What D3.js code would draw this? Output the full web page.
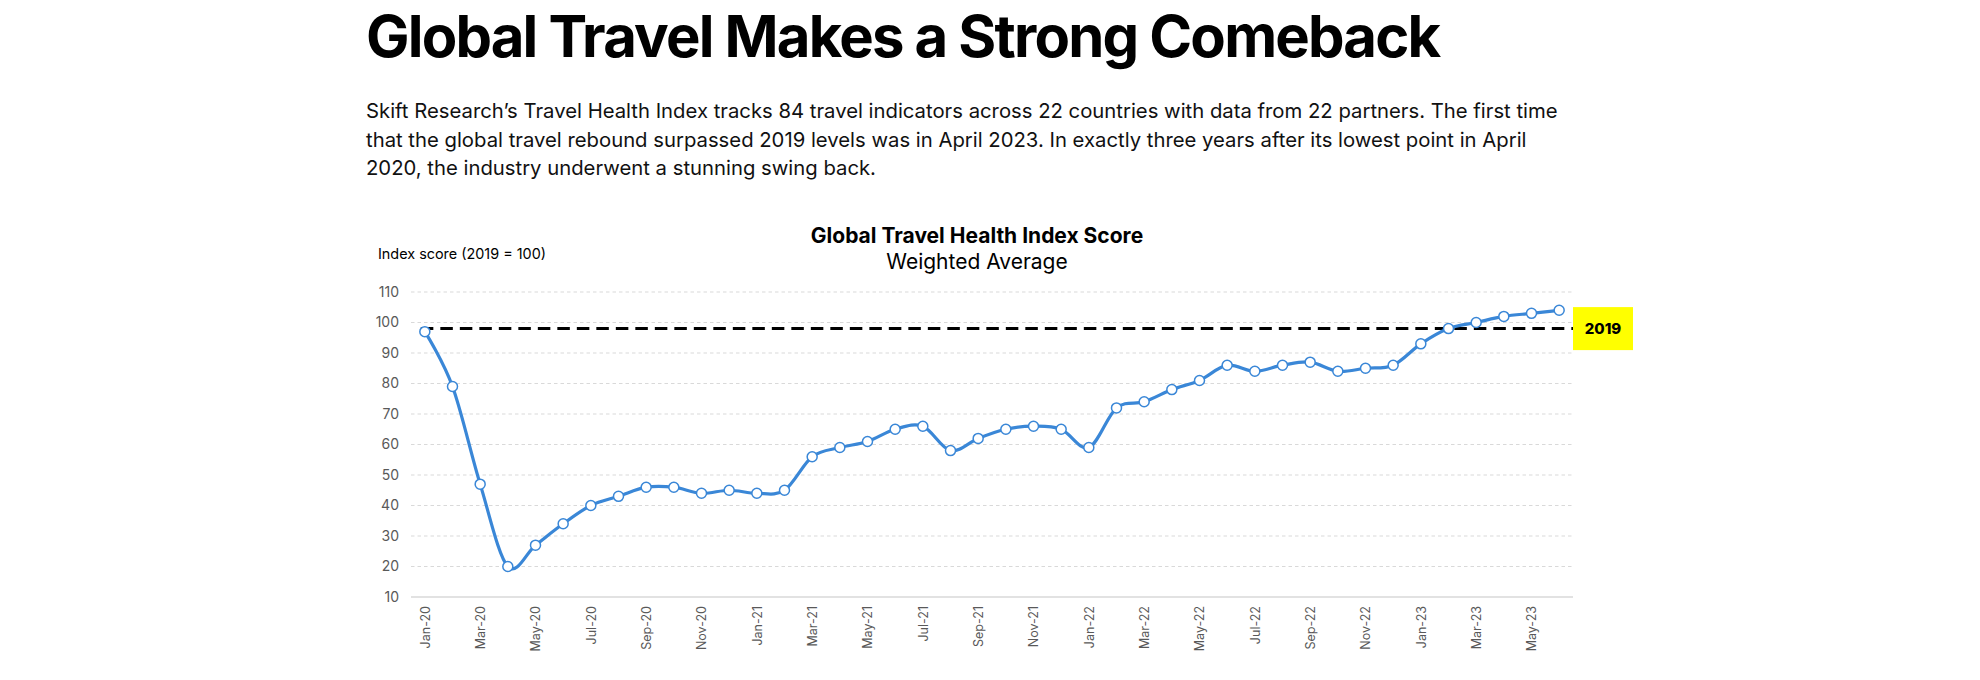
<html>
<head>
<meta charset="utf-8">
<title>Global Travel Health Index</title>
<script src="https://cdn.jsdelivr.net/npm/d3@7"></script>
<style>
  body { margin: 0; background: #fff; }
  svg text { font-family: Inter, "Noto Sans", sans-serif; }
</style>
</head>
<body>
<div id="chart"></div>
<script>
// headline + intro
const headline = "Global Travel Makes a Strong Comeback";
const intro = [
  "Skift Research\u2019s Travel Health Index tracks 84 travel indicators across 22 countries with data from 22 partners. The first time",
  "that the global travel rebound surpassed 2019 levels was in April 2023. In exactly three years after its lowest point in April",
  "2020, the industry underwent a stunning swing back."
];
const chartTitle = "Global Travel Health Index Score";
const chartSubtitle = "Weighted Average";
const yLabel = "Index score (2019 = 100)";

// monthly data, Jan-20 .. Jun-23
const months = [
  "Jan-20","Feb-20","Mar-20","Apr-20","May-20","Jun-20","Jul-20","Aug-20","Sep-20","Oct-20","Nov-20","Dec-20",
  "Jan-21","Feb-21","Mar-21","Apr-21","May-21","Jun-21","Jul-21","Aug-21","Sep-21","Oct-21","Nov-21","Dec-21",
  "Jan-22","Feb-22","Mar-22","Apr-22","May-22","Jun-22","Jul-22","Aug-22","Sep-22","Oct-22","Nov-22","Dec-22",
  "Jan-23","Feb-23","Mar-23","Apr-23","May-23","Jun-23"
];
const scores = [
  97, 79, 47, 20, 27, 34, 40, 43, 46, 46, 44, 45,
  44, 45, 56, 59, 61, 65, 66, 58, 62, 65, 66, 65,
  59, 72, 74, 78, 81, 86, 84, 86, 87, 84, 85, 86,
  93, 98, 100, 102, 103, 104
];
const yTicks = [10, 20, 30, 40, 50, 60, 70, 80, 90, 100, 110];
const refLabel = "2019";
const refValue = 98;

const width = 1980, height = 680;
const plot = {left: 411, right: 1573, top: 292, bottom: 597};

const svg = d3.select('#chart').append('svg')
    .attr('width', width)
    .attr('height', height);

svg.append('text')
    .attr('x', 366).attr('y', 57)
    .attr('font-size', 58).attr('font-weight', 700)
    .attr('letter-spacing', -1.8)
    .attr('fill', '#000')
    .text(headline);

svg.append('g').selectAll('text')
  .data(intro)
  .join('text')
    .attr('x', 366)
    .attr('y', (d, i) => 118 + i * 28.5)
    .attr('font-size', 20.3)
    .attr('fill', '#111')
    .text(d => d);

svg.append('text')
    .attr('x', 977).attr('y', 242.5)
    .attr('text-anchor', 'middle')
    .attr('font-size', 21).attr('font-weight', 700)
    .text(chartTitle);

svg.append('text')
    .attr('x', 977).attr('y', 269)
    .attr('text-anchor', 'middle')
    .attr('font-size', 21)
    .text(chartSubtitle);

svg.append('text')
    .attr('x', 378).attr('y', 259)
    .attr('font-size', 14.4)
    .text(yLabel);

// scales
const x = d3.scalePoint()
    .domain(months)
    .range([plot.left, plot.right])
    .padding(0.5);

const y = d3.scaleLinear()
    .domain([10, 110])
    .range([plot.bottom, plot.top]);

// gridlines
svg.append('g').selectAll('line')
  .data(yTicks.filter(d => d > 10))
  .join('line')
    .attr('x1', plot.left).attr('x2', plot.right)
    .attr('y1', d => y(d)).attr('y2', d => y(d))
    .attr('stroke', '#d9d9d9')
    .attr('stroke-dasharray', '3.5,3');

// y axis labels
const yAxis = svg.append('g')
    .attr('transform', `translate(${plot.left},0)`)
    .call(d3.axisLeft(y).tickValues(yTicks).tickSize(0).tickPadding(12));
yAxis.select('.domain').remove();
yAxis.selectAll('text')
    .attr('font-family', '"Liberation Sans", Arial, sans-serif')
    .attr('font-size', 14)
    .attr('fill', '#595959');

// x axis
const xAxis = svg.append('g')
    .attr('transform', `translate(0,${plot.bottom})`)
    .call(d3.axisBottom(x).tickValues(months.filter((d, i) => i % 2 === 0)).tickSize(0));
xAxis.select('.domain')
    .attr('d', `M${plot.left},0H${plot.right}`)
    .attr('stroke', '#d9d9d9')
    .attr('stroke-width', 1.5);
xAxis.selectAll('text')
    .attr('font-family', '"Liberation Sans", Arial, sans-serif')
    .attr('font-size', 12.5)
    .attr('fill', '#595959')
    .attr('text-anchor', 'end')
    .attr('transform', 'translate(0,9) rotate(-90)')
    .attr('x', 0).attr('y', 0)
    .attr('dy', '0.35em');

// 2019 reference line
svg.append('line')
    .attr('x1', x(months[0]) - 4).attr('x2', plot.right)
    .attr('y1', y(refValue)).attr('y2', y(refValue))
    .attr('stroke', '#000')
    .attr('stroke-width', 3)
    .attr('stroke-dasharray', '12.5,7');

svg.append('rect')
    .attr('x', plot.right).attr('y', y(refValue) - 21.5)
    .attr('width', 60).attr('height', 43)
    .attr('fill', '#ffff00');

svg.append('text')
    .attr('x', plot.right + 30).attr('y', y(refValue))
    .attr('dy', '0.35em')
    .attr('text-anchor', 'middle')
    .attr('font-size', 15).attr('font-weight', 800)
    .text(refLabel);

// series
const line = d3.line()
    .x((d, i) => x(months[i]))
    .y(d => y(d))
    .curve(d3.curveCatmullRom.alpha(0));

svg.append('path')
    .datum(scores)
    .attr('d', line)
    .attr('fill', 'none')
    .attr('stroke', '#3a87d7')
    .attr('stroke-width', 3.2);

svg.append('g').selectAll('circle')
  .data(scores)
  .join('circle')
    .attr('cx', (d, i) => x(months[i]))
    .attr('cy', d => y(d))
    .attr('r', 5)
    .attr('fill', '#fff')
    .attr('stroke', '#3a87d7')
    .attr('stroke-width', 1.5);
</script>
</body>
</html>
